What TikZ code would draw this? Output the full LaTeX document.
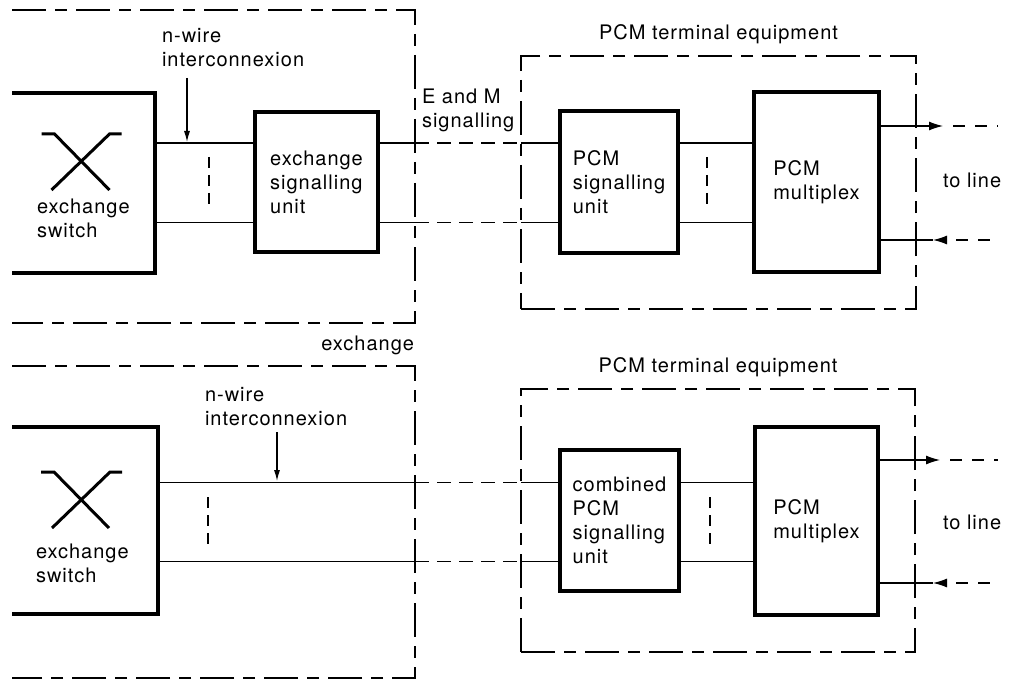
\documentclass[tikz,border=0pt]{standalone}
\usepackage{fontspec}
\setmainfont{TeX Gyre Heros}[LetterSpace=5]
\usetikzlibrary{arrows.meta, positioning}

\begin{document}
\begin{tikzpicture}[x=1pt, y=-1pt,
  every node/.style={font=\fontsize{20}{24}\selectfont, inner sep=0pt, outer sep=0pt, align=left},
  unitbox/.style={draw, line width=4pt},
  frame/.style={line width=1.2pt, dash pattern=on 34pt off 9pt on 12pt off 9pt},
  wire/.style={line width=1.2pt},
  gapwire/.style={wire, dash pattern=on 14pt off 8pt},
  linewire/.style={wire, dash pattern=on 12pt off 10pt, dash phase=12pt},
  tick/.style={line width=1.2pt, dash pattern=on 11pt off 7pt},
  cross/.style={line width=3pt},
  pointer/.style={wire, -{Latex[length=11pt,width=6pt]}}]
\useasboundingbox (0,0) rectangle (1010,682);

% upper arrangement: E and M signalling
\node[minimum width=403, minimum height=313] (exc1) at (213.5,166.5) {};
\draw[frame] (exc1.north west) -- (exc1.north east) -- (exc1.south east) -- (exc1.south west);
\node[draw, frame, minimum width=395, minimum height=253] (pte1) at (718.5,182.5) {};
\node[above=12pt of pte1] (pte1lbl) {PCM terminal equipment};

\node[minimum width=143, minimum height=180] (sw1) at (83.5,183) {};
\draw[line width=4pt] (sw1.north west) -- (sw1.north east) -- (sw1.south east) -- (sw1.south west);
\draw[cross] ([shift={(-42,-49)}]sw1.center) -- ++(13,0) -- ++(55,56);
\draw[cross] ([shift={(38,-49)}]sw1.center) -- ++(-12,0) -- ++(-58,56);
\node[anchor=west] (sw1txt) at (37,218.5) {exchange\\switch};

\node[unitbox, minimum width=123, minimum height=140] (esu1) at (316.5,182) {exchange\\signalling\\unit};
\node[unitbox, minimum width=118, minimum height=142] (psu1) at (619,182) {PCM\\signalling\\unit};
\node[unitbox, minimum width=125, minimum height=180] (mux1) at (816.5,182) {PCM\\multiplex};

\coordinate (a1) at (0,143);
\coordinate (b1) at (0,222.5);
\draw[wire] (sw1.east |- a1) -- (esu1.west |- a1);
\draw[wire] (sw1.east |- b1) -- (esu1.west |- b1);
\draw[wire] (esu1.east |- a1) -- (exc1.east |- a1);
\draw[wire] (esu1.east |- b1) -- (exc1.east |- b1);
\draw[gapwire] (exc1.east |- a1) -- (pte1.west |- a1);
\draw[gapwire] (exc1.east |- b1) -- (pte1.west |- b1);
\draw[wire] (pte1.west |- a1) -- (psu1.west |- a1);
\draw[wire] (pte1.west |- b1) -- (psu1.west |- b1);
\draw[wire] (psu1.east |- a1) -- (mux1.west |- a1);
\draw[wire] (psu1.east |- b1) -- (mux1.west |- b1);
\draw[tick] (209,157) -- (209,208);
\draw[tick] (707,157) -- (707,208);

\node[anchor=west] (nw1) at (162,47.5) {n-wire\\interconnexion};
\coordinate (nw1a) at (187,78);
\coordinate (nw1b) at (187,142);
\draw[pointer] (nw1a) -- (nw1b);
\node[anchor=west] (em1) at (422,110.5) {E and M\\signalling};

\coordinate (tx1) at (943,126);
\coordinate (tx1end) at (998,126);
\coordinate (rx1) at (933,240);
\coordinate (rx1end) at (998,240);
\draw[wire, -{Latex[length=14pt,width=9pt]}] (mux1.east |- tx1) -- (tx1);
\draw[linewire] (tx1) -- (tx1end);
\draw[wire] (mux1.east |- rx1) -- (rx1);
\draw[linewire, {Latex[length=14pt,width=9pt]}-] (rx1) -- (rx1end);
\node[anchor=west] (line1) at (943,180) {to line};

\node[anchor=east] (exclbl) at (414,345) {exchange};

% lower arrangement: combined PCM signalling
\node[minimum width=403, minimum height=312] (exc2) at (213.5,522) {};
\draw[frame] (exc2.north west) -- (exc2.north east) -- (exc2.south east) -- (exc2.south west);
\node[draw, frame, minimum width=394, minimum height=263] (pte2) at (718,520.5) {};
\node[above=12pt of pte2] (pte2lbl) {PCM terminal equipment};

\node[minimum width=146, minimum height=187] (sw2) at (85,520.5) {};
\draw[line width=4pt] (sw2.north west) -- (sw2.north east) -- (sw2.south east) -- (sw2.south west);
\draw[cross] ([shift={(-44,-48.5)}]sw2.center) -- ++(13,0) -- ++(55,56);
\draw[cross] ([shift={(37,-48.5)}]sw2.center) -- ++(-12,0) -- ++(-58,56);
\node[anchor=west] (sw2txt) at (36,563.5) {exchange\\switch};

\node[unitbox, minimum width=119, minimum height=141] (csu2) at (619.5,520.5) {combined\\PCM\\signalling\\unit};
\node[unitbox, minimum width=123, minimum height=188] (mux2) at (816.5,521) {PCM\\multiplex};

\coordinate (a2) at (0,482.5);
\coordinate (b2) at (0,561.5);
\draw[wire] (sw2.east |- a2) -- (exc2.east |- a2);
\draw[wire] (sw2.east |- b2) -- (exc2.east |- b2);
\draw[gapwire] (exc2.east |- a2) -- (pte2.west |- a2);
\draw[gapwire] (exc2.east |- b2) -- (pte2.west |- b2);
\draw[wire] (pte2.west |- a2) -- (csu2.west |- a2);
\draw[wire] (pte2.west |- b2) -- (csu2.west |- b2);
\draw[wire] (csu2.east |- a2) -- (mux2.west |- a2);
\draw[wire] (csu2.east |- b2) -- (mux2.west |- b2);
\draw[tick] (208,497) -- (208,548);
\draw[tick] (710,497) -- (710,548);

\node[anchor=west] (nw2) at (205,407) {n-wire\\interconnexion};
\coordinate (nw2a) at (277,432);
\coordinate (nw2b) at (277,481);
\draw[pointer] (nw2a) -- (nw2b);

\coordinate (tx2) at (940,460);
\coordinate (tx2end) at (998,460);
\coordinate (rx2) at (933,583);
\coordinate (rx2end) at (998,583);
\draw[wire, -{Latex[length=14pt,width=9pt]}] (mux2.east |- tx2) -- (tx2);
\draw[linewire] (tx2) -- (tx2end);
\draw[wire] (mux2.east |- rx2) -- (rx2);
\draw[linewire, {Latex[length=14pt,width=9pt]}-] (rx2) -- (rx2end);
\node[anchor=west] (line2) at (943,522) {to line};
\end{tikzpicture}
\end{document}
